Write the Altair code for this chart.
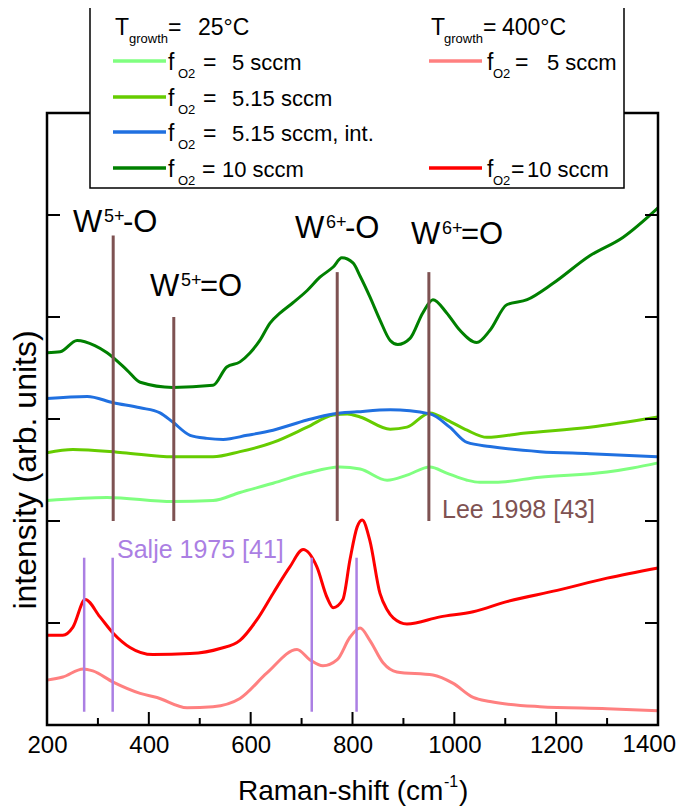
import altair as alt
import pandas as pd

# ---------------- data (Raman shift in cm^-1, intensity in arb. units) ----------------
# T_growth = 25 C
x_25_5 = [200, 318, 447, 526, 579, 644, 711, 775, 815, 868, 907, 952, 985, 1025, 1050, 1080, 1168, 1300, 1350, 1400]
y_25_5 = [2.20, 2.23, 2.19, 2.20, 2.28, 2.37, 2.47, 2.53, 2.51, 2.40, 2.45, 2.53, 2.47, 2.40, 2.38, 2.38, 2.43, 2.48, 2.52, 2.57]

x_25_515 = [200, 251, 349, 447, 526, 579, 644, 711, 762, 790, 815, 874, 907, 952, 986, 1025, 1064, 1135, 1266, 1400]
y_25_515 = [2.67, 2.70, 2.67, 2.63, 2.63, 2.68, 2.77, 2.92, 3.04, 3.05, 3.02, 2.90, 2.92, 3.06, 2.99, 2.89, 2.82, 2.86, 2.92, 3.02]

x_25_515i = [200, 279, 330, 383, 422, 447, 481, 514, 546, 593, 644, 711, 762, 809, 874, 952, 991, 1025, 1070, 1168, 1266, 1400]
y_25_515i = [3.20, 3.22, 3.16, 3.11, 3.06, 2.97, 2.84, 2.81, 2.80, 2.84, 2.89, 2.99, 3.05, 3.07, 3.09, 3.05, 2.92, 2.77, 2.73, 2.68, 2.66, 2.63]

x_25_10 = [200, 226, 259, 294, 318, 357, 383, 447, 526, 553, 579, 599, 618, 638, 658, 683, 711, 736, 762, 779,
           801, 815, 834, 854, 874, 889, 913, 938, 958, 985, 1011, 1044, 1070, 1103, 1143, 1194, 1266, 1331, 1400]
y_25_10 = [3.65, 3.66, 3.77, 3.72, 3.65, 3.48, 3.36, 3.31, 3.33, 3.51, 3.56, 3.65, 3.77, 3.94, 4.04, 4.14, 4.26, 4.39, 4.49, 4.58,
           4.53, 4.40, 4.20, 3.97, 3.77, 3.73, 3.79, 4.04, 4.17, 4.04, 3.87, 3.75, 3.87, 4.12, 4.17, 4.33, 4.60, 4.78, 5.07]

# T_growth = 400 C
x_400_5 = [200, 231, 271, 290, 330, 383, 416, 475, 526, 579, 632, 691, 716, 742, 770, 795, 815, 834, 860, 887,
           958, 997, 1037, 1070, 1168, 1300, 1400]
y_400_5 = [0.44, 0.47, 0.55, 0.53, 0.42, 0.31, 0.27, 0.17, 0.18, 0.26, 0.51, 0.74, 0.64, 0.58, 0.64, 0.86, 0.95, 0.83, 0.61, 0.52,
           0.49, 0.41, 0.27, 0.23, 0.18, 0.16, 0.14]

x_400_10 = [200, 231, 251, 275, 304, 330, 363, 408, 481, 540, 579, 612, 644, 677, 703, 730, 750, 762, 781, 795,
            809, 819, 834, 854, 868, 880, 907, 972, 1037, 1103, 1202, 1300, 1400]
y_400_10 = [0.88, 0.88, 0.96, 1.23, 1.06, 0.90, 0.76, 0.69, 0.70, 0.75, 0.83, 1.03, 1.29, 1.55, 1.72, 1.55, 1.25, 1.15, 1.23, 1.62,
            1.94, 2.01, 1.81, 1.29, 1.13, 1.05, 0.99, 1.06, 1.11, 1.21, 1.32, 1.44, 1.54]

series_names = ["25C 5", "25C 5.15", "25C 5.15 int", "25C 10", "400C 5", "400C 10"]
series_x = [x_25_5, x_25_515, x_25_515i, x_25_10, x_400_5, x_400_10]
series_y = [y_25_5, y_25_515, y_25_515i, y_25_10, y_400_5, y_400_10]
series_colors = ["#80FF80", "#66CC00", "#2070E0", "#008000", "#FF8080", "#FF0000"]

# reference lines
lee_x = [330, 449, 770, 950]
lee_top = [4.80, 4.00, 4.44, 4.44]
lee_bottom = 2.0
salje_x = [273, 329, 720, 808]
salje_top = 1.64
salje_bottom = 0.13

x_major = [400, 600, 800, 1000, 1200]
x_minor = [300, 500, 700, 900, 1100, 1300]
x_labels = [200, 400, 600, 800, 1000, 1200]
x_last_label = "1400"
y_ticks = [1, 2, 3, 4, 5]

legend_25 = ["5 sccm", "5.15 sccm", "5.15 sccm, int.", "10 sccm"]
legend_400 = ["5 sccm", "10 sccm"]

# ---------------- build ----------------
W, H = 611, 612
RIGHT_PAD = 19
FONT = "Liberation Sans"
BROWN = "#7E5252"
PURPLE = "#AB7FE3"

rows = []
for name, xs, ys in zip(series_names, series_x, series_y):
    for xv, yv in zip(xs, ys):
        rows.append({"series": name, "shift": xv, "intensity": yv})
df = pd.DataFrame(rows)

xscale = alt.Scale(domain=[200, 1400], nice=False, zero=False)
yscale = alt.Scale(domain=[0, 6], nice=False, zero=False)

curves = alt.Chart(df).mark_line(strokeWidth=3, interpolate="monotone").encode(
    x=alt.X("shift:Q", scale=xscale,
            axis=alt.Axis(values=x_labels, format="d", labelFontSize=24, labelFont=FONT, labelColor="black",
                          ticks=False, domain=False, grid=False, labelPadding=8, title=None,
                          labelFlush=False, labelOverlap=False)),
    y=alt.Y("intensity:Q", scale=yscale, axis=None),
    color=alt.Color("series:N", scale=alt.Scale(domain=series_names, range=series_colors), legend=None),
)

lee_df = pd.DataFrame({"x": lee_x, "top": lee_top, "bottom": [lee_bottom] * len(lee_x)})
lee = alt.Chart(lee_df).mark_rule(color=BROWN, strokeWidth=3).encode(
    x=alt.X("x:Q", scale=xscale), y=alt.Y("bottom:Q", scale=yscale), y2="top:Q")

salje_df = pd.DataFrame({"x": salje_x, "top": [salje_top] * 4, "bottom": [salje_bottom] * 4})
salje = alt.Chart(salje_df).mark_rule(color=PURPLE, strokeWidth=2.5).encode(
    x=alt.X("x:Q", scale=xscale), y=alt.Y("bottom:Q", scale=yscale), y2="top:Q")

frame_df = pd.DataFrame({"x0": [200], "x1": [1400], "y0": [0], "y1": [6]})
frame = alt.Chart(frame_df).mark_rect(fillOpacity=0, stroke="black", strokeWidth=2.5).encode(
    x=alt.X("x0:Q", scale=xscale), x2="x1:Q", y=alt.Y("y0:Q", scale=yscale), y2="y1:Q")

xmaj = alt.Chart(pd.DataFrame({"x": x_major})).mark_rule(color="black", strokeWidth=2).encode(
    x=alt.X("x:Q", scale=xscale), y=alt.value(H), y2=alt.value(H - 13))
xmin = alt.Chart(pd.DataFrame({"x": x_minor})).mark_rule(color="black", strokeWidth=2).encode(
    x=alt.X("x:Q", scale=xscale), y=alt.value(H), y2=alt.value(H - 7))
yl = alt.Chart(pd.DataFrame({"y": y_ticks})).mark_rule(color="black", strokeWidth=2).encode(
    y=alt.Y("y:Q", scale=yscale), x=alt.value(0), x2=alt.value(13))
yr = alt.Chart(pd.DataFrame({"y": y_ticks})).mark_rule(color="black", strokeWidth=2).encode(
    y=alt.Y("y:Q", scale=yscale), x=alt.value(W - 13), x2=alt.value(W))

one = pd.DataFrame({"a": [0]})
# last tick label, kept inside the page
last_label = alt.Chart(one).mark_text(align="right", baseline="top", font=FONT, fontSize=24, color="black").encode(
    x=alt.value(W + RIGHT_PAD - 1), y=alt.value(H + 8), text=alt.value(x_last_label))

legbox = alt.Chart(one).mark_rect(fill="white", stroke="black", strokeWidth=1.5).encode(
    x=alt.value(43), x2=alt.value(577), y=alt.value(-111), y2=alt.value(75))

# legend sample lines
row_y = [-52, -16, 19, 55]
samples = []
for i in range(4):
    samples.append({"x0": 66, "x1": 119, "yy": row_y[i], "c": series_colors[i]})
for i, r in zip([4, 5], [0, 3]):
    samples.append({"x0": 382, "x1": 435, "yy": row_y[r], "c": series_colors[i]})
leg_lines = alt.Chart(pd.DataFrame(samples)).mark_rule(strokeWidth=3.5).encode(
    x=alt.X("x0:Q", scale=None), x2="x1:Q", y=alt.Y("yy:Q", scale=None),
    color=alt.Color("c:N", scale=None))

# text pieces: (text, x, y-baseline, size, color)
T = []
K = "black"
T += [("T", 68, -78, 23, K), ("growth", 82, -70, 13, K), ("=", 121, -78, 23, K), ("25°C", 151, -78, 23, K)]
T += [("T", 384, -78, 23, K), ("growth", 397, -70, 13, K), ("=", 436, -78, 23, K), ("400°C", 455, -78, 23, K)]
for i, lab in enumerate(legend_25):
    b = row_y[i] + 9
    T += [("f", 121, b, 23, K), ("O2", 131, b + 8, 13, K)]
    if i < 3:
        T += [("=", 156, b, 23, K), (lab, 185, b, 22, K)]
    else:
        T += [("=", 155, b, 23, K), (lab, 175, b, 22, K)]
for lab, r in zip(legend_400, [0, 3]):
    b = row_y[r] + 9
    T += [("f", 440, b, 23, K), ("O2", 446, b + 8, 13, K)]
    if r == 0:
        T += [("=", 468, b, 23, K), (lab, 500, b, 22, K)]
    else:
        T += [("=", 464, b, 23, K), (lab, 480, b, 22, K)]
# band annotations
for (sup, rest, x0, base) in [("5+", "-O", 26, 119), ("5+", "=O", 103, 183),
                              ("6+", "-O", 248, 125), ("6+", "=O", 364, 131)]:
    T += [("W", x0, base, 31, K), (sup, x0 + 31, base - 10, 18, K), (rest, x0 + 50, base, 31, K)]
T += [("Lee 1998 [43]", 395, 405, 25, BROWN), ("Salje 1975 [41]", 70, 445, 25, PURPLE)]
# x axis title
T += [("Raman-shift (cm", 191, 687, 28, K), ("-1", 397, 674, 16, K), (")", 412, 687, 28, K)]

tdf = pd.DataFrame(T, columns=["t", "px", "py", "s", "c"])
texts = alt.Chart(tdf).mark_text(align="left", baseline="alphabetic", font=FONT).encode(
    x=alt.X("px:Q", scale=None), y=alt.Y("py:Q", scale=None), text="t:N",
    size=alt.Size("s:Q", scale=None), color=alt.Color("c:N", scale=None))

ytitle = alt.Chart(one).mark_text(angle=270, align="center", baseline="middle", font=FONT,
                                  fontSize=32, color="black").encode(
    x=alt.value(-21), y=alt.value(357), text=alt.value("intensity (arb. units)"))

chart = alt.layer(curves, lee, salje, frame, xmaj, xmin, yl, yr, last_label, legbox, leg_lines, texts, ytitle).properties(
    width=W, height=H,
    padding={"left": 39, "top": 105, "right": RIGHT_PAD, "bottom": 82},
    autosize=alt.AutoSizeParams(type="none"),
    background="white",
).configure_view(strokeWidth=0)

chart.save("out.html", embed_options={"renderer": "svg", "actions": False})
